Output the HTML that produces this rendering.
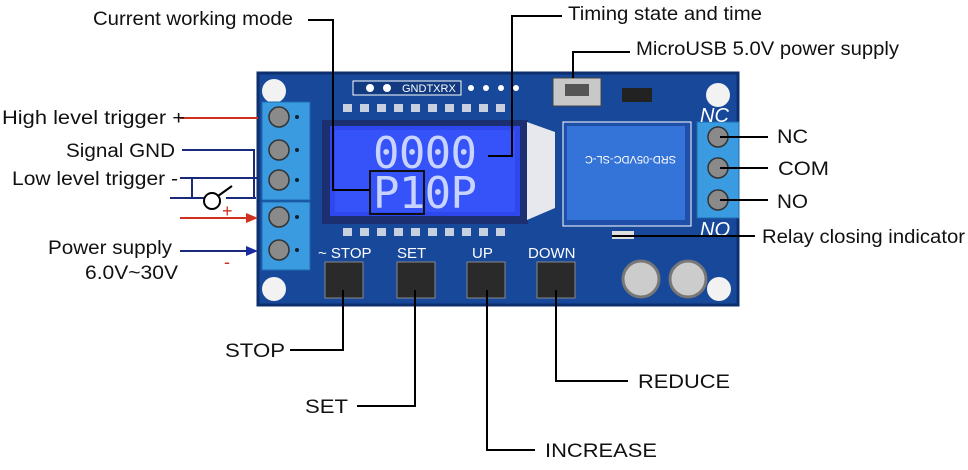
<!DOCTYPE html>
<html><head><meta charset="utf-8"><style>
body{margin:0;width:968px;height:465px;background:#fff;overflow:hidden;font-family:"Liberation Sans",sans-serif;}
</style></head><body>
<svg width="968" height="465" xmlns="http://www.w3.org/2000/svg" font-family="Liberation Sans, sans-serif">
<rect x="258" y="73" width="480" height="232" fill="#17489a"/>
<rect x="258" y="73" width="480" height="232" fill="none" stroke="#0d2f6e" stroke-width="3"/>
<circle cx="274" cy="91" r="12" fill="#f2f2f2"/>
<circle cx="274" cy="289" r="12" fill="#f2f2f2"/>
<circle cx="718" cy="95" r="12" fill="#f2f2f2"/>
<circle cx="719" cy="289" r="12" fill="#f2f2f2"/>
<rect x="262" y="102" width="48" height="98" fill="#3a9be0" stroke="#1d6bb0"/>
<rect x="262" y="202" width="48" height="68" fill="#3a9be0" stroke="#1d6bb0"/>
<g fill="#8a8a8a" stroke="#333" stroke-width="1.5">
<circle cx="279" cy="117" r="10"/><circle cx="279" cy="150" r="10"/><circle cx="279" cy="180" r="10"/>
<circle cx="279" cy="217" r="10"/><circle cx="279" cy="250" r="10"/></g>
<g fill="#123"><circle cx="297" cy="117" r="2"/><circle cx="297" cy="150" r="2"/><circle cx="297" cy="180" r="2"/><circle cx="297" cy="217" r="2"/><circle cx="297" cy="250" r="2"/></g>
<rect x="697" y="122" width="42" height="96" fill="#3a9be0" stroke="#1d6bb0"/>
<g fill="#8a8a8a" stroke="#333" stroke-width="1.5">
<circle cx="718" cy="137" r="10"/><circle cx="718" cy="168" r="10"/><circle cx="718" cy="200" r="10"/></g>
<text x="700" y="122" font-size="20" font-style="italic" fill="#fff">NC</text>
<text x="700" y="236" font-size="20" font-style="italic" fill="#fff">NO</text>
<rect x="353" y="81" width="108" height="14" fill="#123a80" stroke="#fff"/>
<text x="402" y="92" font-size="11" fill="#fff">GNDTXRX</text>
<g fill="#fff"><circle cx="370" cy="88" r="4"/><circle cx="387" cy="88" r="4"/><circle cx="471" cy="88" r="3"/><circle cx="486" cy="88" r="3"/><circle cx="501" cy="88" r="3"/><circle cx="516" cy="88" r="3"/></g>
<g fill="#c8d0e0"><rect x="343" y="104" width="9" height="8"/><rect x="360" y="104" width="9" height="8"/><rect x="377" y="104" width="9" height="8"/><rect x="394" y="104" width="9" height="8"/><rect x="411" y="104" width="9" height="8"/><rect x="428" y="104" width="9" height="8"/><rect x="445" y="104" width="9" height="8"/><rect x="462" y="104" width="9" height="8"/><rect x="479" y="104" width="9" height="8"/><rect x="496" y="104" width="9" height="8"/>
<rect x="343" y="228" width="9" height="8"/><rect x="360" y="228" width="9" height="8"/><rect x="377" y="228" width="9" height="8"/><rect x="394" y="228" width="9" height="8"/><rect x="411" y="228" width="9" height="8"/><rect x="428" y="228" width="9" height="8"/><rect x="445" y="228" width="9" height="8"/><rect x="462" y="228" width="9" height="8"/><rect x="479" y="228" width="9" height="8"/><rect x="496" y="228" width="9" height="8"/></g>
<rect x="322" y="120" width="206" height="104" fill="#1c2f70"/>
<polygon points="527,122 555,132 555,208 527,220" fill="#e6e8ee"/>
<rect x="330" y="126" width="190" height="90" fill="#2f48ee"/>
<rect x="335" y="130" width="180" height="82" fill="#3a5cff" opacity="0.6"/>
<text x="373" y="168" font-size="44" font-family="DejaVu Sans Mono, monospace" fill="#c8d4ff" textLength="104">0000</text>
<text x="373" y="208" font-size="44" font-family="DejaVu Sans Mono, monospace" fill="#c8d4ff" textLength="104">P10P</text>
<rect x="370" y="171" width="54" height="43" fill="none" stroke="#111" stroke-width="2"/>
<rect x="553" y="78" width="48" height="28" fill="#c8c8c8" stroke="#444"/>
<rect x="565" y="84" width="24" height="12" fill="#555"/>
<rect x="622" y="88" width="30" height="14" fill="#222"/>
<rect x="563" y="122" width="128" height="104" fill="#1f4fa8" stroke="#fff" stroke-width="1"/>
<rect x="567" y="126" width="118" height="94" fill="#3473d8"/>
<text x="578" y="144" font-size="11" fill="#fff" transform="rotate(180 627 150)">SRD-05VDC-SL-C</text>
<rect x="612" y="231" width="22" height="8" fill="#ddd"/>
<g font-size="15" fill="#fff"><text x="318" y="258">~ STOP</text><text x="397" y="258">SET</text><text x="472" y="258">UP</text><text x="528" y="258">DOWN</text></g>
<g fill="#2a2a2a" stroke="#888"><rect x="325" y="262" width="38" height="36"/><rect x="397" y="262" width="38" height="36"/><rect x="467" y="262" width="38" height="36"/><rect x="537" y="262" width="38" height="36"/></g>
<circle cx="641" cy="279" r="18" fill="#ccc" stroke="#777" stroke-width="3"/>
<circle cx="688" cy="279" r="18" fill="#ccc" stroke="#777" stroke-width="3"/>
<g stroke="#000" stroke-width="2" fill="none">
<polyline points="308,20 333,20 333,190 370,190"/>
<polyline points="562,16 512,16 512,156 488,156"/>
<polyline points="630,52 573,52 573,78"/>
<line x1="720" y1="137" x2="768" y2="137"/><line x1="720" y1="168" x2="768" y2="168"/><line x1="720" y1="200" x2="768" y2="200"/>
<line x1="612" y1="236" x2="755" y2="236"/>
<polyline points="343,290 343,350 290,350"/>
<polyline points="415,290 415,406 357,406"/>
<polyline points="487,290 487,450 535,450"/>
<polyline points="556,290 556,381 628,381"/>
</g>
<g stroke="#1a2a7a" stroke-width="2" fill="none">
<polyline points="182,150 254,150 254,198"/>
<line x1="180" y1="178" x2="258" y2="178"/>
<polyline points="192,178 192,198 170,198"/>
<line x1="192" y1="198" x2="204" y2="198"/>
<circle cx="212" cy="201" r="8" stroke="#000"/>
<line x1="218" y1="196" x2="232" y2="186" stroke="#000"/>
<line x1="226" y1="198" x2="256" y2="198"/>
<line x1="180" y1="251" x2="250" y2="251"/>
</g>
<polygon points="258,251 246,246 246,256" fill="#1a2aa0"/>
<line x1="180" y1="118" x2="258" y2="118" stroke="#d03020" stroke-width="2"/>
<line x1="180" y1="218" x2="250" y2="218" stroke="#d03020" stroke-width="2"/>
<polygon points="258,218 246,213 246,223" fill="#d03020"/>
<text x="222" y="217" font-size="18" fill="#d03020">+</text>
<text x="224" y="268" font-size="18" fill="#d03020">-</text>
<g font-size="19" fill="#111" lengthAdjust="spacingAndGlyphs">
<text x="93" y="25" textLength="200" lengthAdjust="spacingAndGlyphs">Current working mode</text>
<text x="568" y="20" textLength="194" lengthAdjust="spacingAndGlyphs">Timing state and time</text>
<text x="636" y="55" textLength="263" lengthAdjust="spacingAndGlyphs">MicroUSB 5.0V power supply</text>
<text x="2" y="124" textLength="183" lengthAdjust="spacingAndGlyphs">High level trigger +</text>
<text x="66" y="157" textLength="109" lengthAdjust="spacingAndGlyphs">Signal GND</text>
<text x="12" y="185" textLength="166" lengthAdjust="spacingAndGlyphs">Low level trigger -</text>
<text x="48" y="254" textLength="124" lengthAdjust="spacingAndGlyphs">Power supply</text>
<text x="85" y="279" textLength="93" lengthAdjust="spacingAndGlyphs">6.0V~30V</text>
<text x="777" y="143" textLength="31" lengthAdjust="spacingAndGlyphs">NC</text>
<text x="778" y="175" textLength="51" lengthAdjust="spacingAndGlyphs">COM</text>
<text x="777" y="208" textLength="31" lengthAdjust="spacingAndGlyphs">NO</text>
<text x="762" y="243" textLength="203" lengthAdjust="spacingAndGlyphs">Relay closing indicator</text>
<text x="225" y="357" textLength="60" lengthAdjust="spacingAndGlyphs">STOP</text>
<text x="305" y="413" textLength="43" lengthAdjust="spacingAndGlyphs">SET</text>
<text x="545" y="457" textLength="112" lengthAdjust="spacingAndGlyphs">INCREASE</text>
<text x="638" y="388" textLength="92" lengthAdjust="spacingAndGlyphs">REDUCE</text>
</g>
</svg>
</body></html>
